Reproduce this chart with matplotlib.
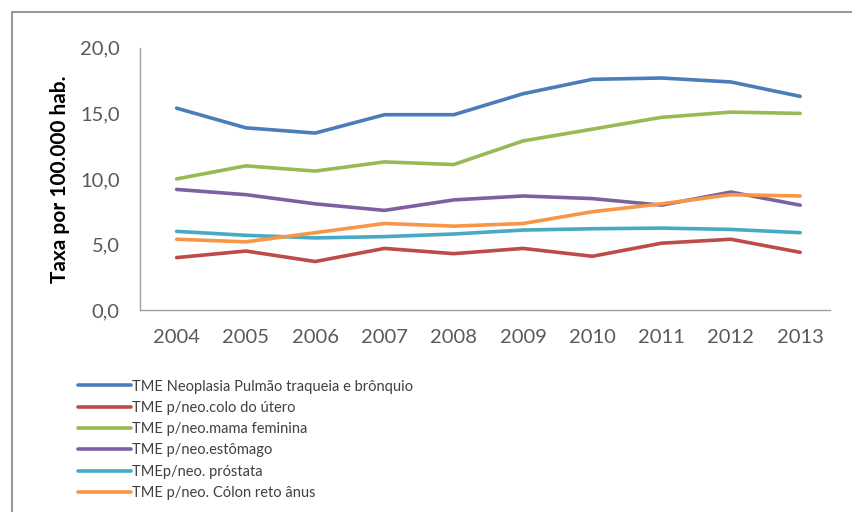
import matplotlib
matplotlib.use("Agg")
import matplotlib.pyplot as plt
from matplotlib.patches import Rectangle

# data
anos = [2004, 2005, 2006, 2007, 2008, 2009, 2010, 2011, 2012, 2013]
series_nomes = [
    "TME Neoplasia Pulmão traqueia e brônquio",
    "TME p/neo.colo do útero",
    "TME p/neo.mama feminina",
    "TME p/neo.estômago",
    "TMEp/neo. próstata",
    "TME p/neo. Cólon reto ânus",
]
pulmao = [15.4, 13.9, 13.5, 14.9, 14.9, 16.5, 17.6, 17.7, 17.4, 16.3]
utero = [4.0, 4.5, 3.7, 4.7, 4.3, 4.7, 4.1, 5.1, 5.4, 4.4]
mama = [10.0, 11.0, 10.6, 11.3, 11.1, 12.9, 13.8, 14.7, 15.1, 15.0]
estomago = [9.2, 8.8, 8.1, 7.6, 8.4, 8.7, 8.5, 8.0, 9.0, 8.0]
prostata = [6.0, 5.7, 5.5, 5.6, 5.8, 6.1, 6.2, 6.25, 6.15, 5.9]
colon = [5.4, 5.2, 5.9, 6.6, 6.4, 6.6, 7.5, 8.1, 8.8, 8.7]
cores = ["#4a7ebb", "#be4b48", "#98b954", "#7d60a0", "#46aac5", "#f79646"]

plt.rcParams['font.family'] = ['Lato', 'DejaVu Sans']

fig = plt.figure(figsize=(8.53, 5.12), dpi=100)
ax = fig.add_axes([0.164, 0.3945, 0.809, 0.512])

for vals, nome, cor in zip([pulmao, utero, mama, estomago, prostata, colon], series_nomes, cores):
    ax.plot(anos, vals, color=cor, lw=2.6, label=nome, solid_capstyle='round')

ax.set_xlim(2003.47, 2013.43)
ax.set_ylim(0, 20)
ax.set_yticks([0, 5, 10, 15, 20])
ax.set_yticklabels(["0,0", "5,0", "10,0", "15,0", "20,0"])
ax.set_xticks(anos)
ax.tick_params(axis='both', length=0, labelsize=14.5, colors='#595959')
ax.tick_params(axis='y', pad=14.5)
ax.tick_params(axis='x', pad=14)
for s in ['top', 'right']:
    ax.spines[s].set_visible(False)
for s in ['left', 'bottom']:
    ax.spines[s].set_color('#a0a0a0')
    ax.spines[s].set_linewidth(1)
ax.set_ylabel("Taxa por 100.000 hab.", fontsize=15, fontweight='bold', labelpad=7)

leg = fig.legend(loc='upper left', bbox_to_anchor=(0.085, 0.27), frameon=False,
                 fontsize=10.5, handlelength=3.6, handletextpad=0.1, labelspacing=0.5,
                 borderaxespad=0)
for t in leg.get_texts():
    t.set_color('#404040')

# outer frame
fig.patches.append(Rectangle((12 / 853, -0.1), 1.0, 1 - 12 / 512 + 0.1, transform=fig.transFigure,
                             fill=False, edgecolor='#9a9a9a', lw=1.5))

fig.savefig("out.png", dpi=100)
